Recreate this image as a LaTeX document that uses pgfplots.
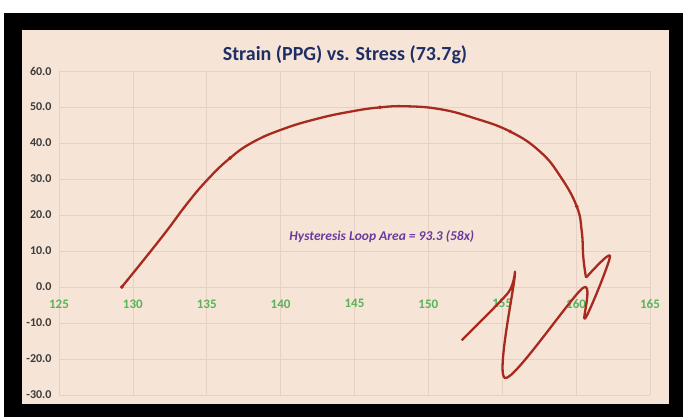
\documentclass[border=0pt]{standalone}
\usepackage{pgfplots}
\pgfplotsset{compat=1.18}
\usepackage{fontspec}
\setmainfont{Carlito}
\definecolor{peach}{HTML}{F6E4D7}
\definecolor{curve}{HTML}{A8291E}
\definecolor{gridc}{HTML}{E5D2C4}
\definecolor{titlec}{HTML}{1F2F66}
\definecolor{tickgreen}{HTML}{59B35A}
\definecolor{ylab}{HTML}{3C3C3C}
\definecolor{annot}{HTML}{6A3A9E}
\begin{document}
\begin{tikzpicture}[x=1pt,y=1pt]
\fill[white] (0,0) rectangle (683,417);
\fill[black] (4,0) rectangle (683,404);
\fill[peach] (22,13) rectangle (669,387);
\begin{axis}[at={(59pt,22pt)}, anchor=south west, scale only axis, width=591pt, height=324pt,
 xmin=125,xmax=165,ymin=-30,ymax=60,
 axis x line=middle, axis y line=left, axis line style={draw=none},
 hide obscured x ticks=false,
 xtick={125,130,...,165}, ytick={-30,-20,...,60},
 major tick length=0pt,
 grid=major, major grid style={gridc, line width=0.6pt},
 /pgf/number format/assume math mode=true,
 yticklabel style={font=\fontsize{12}{14}\selectfont\bfseries, text=ylab, xshift=-4pt, /pgf/number format/fixed, /pgf/number format/fixed zerofill, /pgf/number format/precision=1},
 xticklabel style={font=\fontsize{13}{15}\selectfont\bfseries, text=tickgreen, yshift=-9pt},
 clip=false,
]
\addplot[curve, line width=2.3pt, smooth, tension=0.75, no marks, line join=round] coordinates {
(129.25,0.0) (130.71,7.4) (132.29,15.6) (133.64,23.0) (135.0,29.6) (136.57,35.8)
(138.15,40.3) (140.18,43.9) (142.44,46.7) (144.70,48.7) (146.73,49.9) (148.53,50.2)
(150.79,49.4) (153.04,47.0) (155.53,43.2) (157.56,37.6) (158.95,30.6) (160.04,22.4)
(160.38,15.5) (160.49,8.1) (160.67,2.6)
};
\addplot[curve, line width=2.3pt, smooth, tension=0.5, no marks, line join=round] coordinates {
(160.67,2.6) (162.3,8.6) (160.6,-8.8) (160.45,-0.3) (155.2,-25.3) (155.85,3.3) (155.4,-1.6) (152.25,-14.8)
};
\addplot[only marks, mark=*, mark size=1.7pt, mark options={fill=curve, draw=curve}] coordinates {
(129.25,0.0) (136.57,35.8) (146.73,49.9) (155.53,43.2) (160.04,22.4)
};
\node[font=\fontsize{13.5}{15}\selectfont\bfseries\itshape, text=annot] at (axis cs:146.85,13.9) {Hysteresis Loop Area = 93.3 (58x)};
\end{axis}
\node[font=\fontsize{20}{24}\selectfont\bfseries, text=titlec] at (345,362) {Strain (PPG) vs. Stress (73.7g)};
\end{tikzpicture}
\end{document}
